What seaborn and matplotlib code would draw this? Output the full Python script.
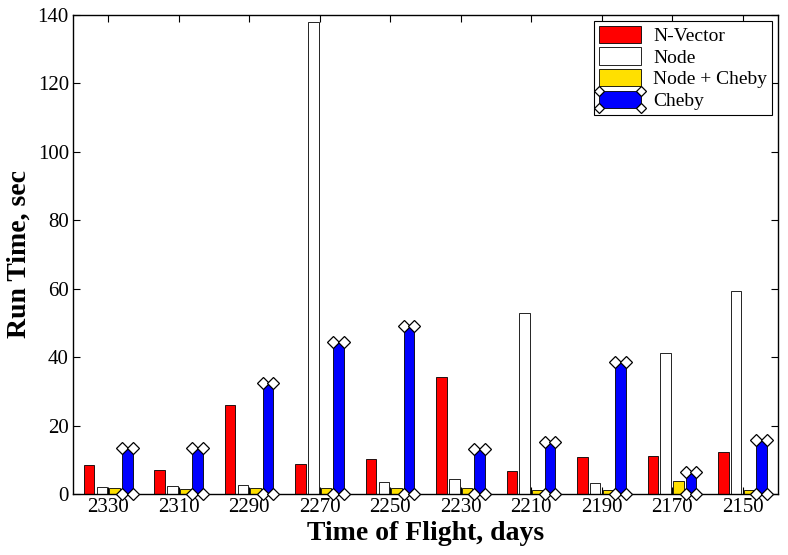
import numpy as np
import pandas as pd
import seaborn as sns
import matplotlib.pyplot as plt
from matplotlib.patches import Rectangle
from matplotlib.lines import Line2D
from matplotlib.legend_handler import HandlerBase

tof = ['2330', '2310', '2290', '2270', '2250', '2230', '2210', '2190', '2170', '2150']
methods = ['N-Vector', 'Node', 'Node + Cheby', 'Cheby']
nvector = [8.5, 7.0, 26.0, 8.9, 10.2, 34.3, 6.6, 10.7, 11.2, 12.2]
node = [2.1, 2.3, 2.6, 138.0, 3.5, 4.5, 53.0, 3.2, 41.2, 59.3]
node_cheby = [1.8, 1.4, 1.6, 1.6, 1.6, 1.8, 1.3, 1.3, 3.7, 1.3]
cheby = [13.4, 13.4, 32.3, 44.5, 49.0, 13.2, 15.1, 38.5, 6.5, 15.8]
colors = ['#ff0000', '#ffffff', '#ffe000', '#0000ff']

df = pd.DataFrame({
    'tof': tof * 4,
    'method': np.repeat(methods, len(tof)),
    'time': nvector + node + node_cheby + cheby,
})

sns.set_style('ticks')
plt.rcParams['font.family'] = ['Liberation Serif', 'DejaVu Serif']
plt.rcParams.update({'text.color': 'black', 'axes.labelcolor': 'black',
                     'xtick.color': 'black', 'ytick.color': 'black'})

fig = plt.figure(figsize=(7.88, 5.55), dpi=100)
ax = fig.add_axes([0.0926, 0.11, 0.8944, 0.863])
sns.barplot(data=df, x='tof', y='time', hue='method', order=tof, hue_order=methods,
            palette=colors, width=0.72, gap=0.17, edgecolor='black', linewidth=0.6,
            saturation=1, ax=ax, legend=False)

# diamonds at the corners of the Cheby bars
for p in ax.containers[3]:
    x0, y0 = p.get_x(), p.get_y()
    x1, y1 = x0 + p.get_width(), y0 + p.get_height()
    ax.plot([x0, x1, x0, x1], [y0, y0, y1, y1], linestyle='none', marker='D',
            markersize=6, markerfacecolor='white', markeredgecolor='black',
            markeredgewidth=0.9, clip_on=False, zorder=5)

ax.set_xlim(-0.5, 9.5)
ax.set_ylim(0, 140)
ax.set_yticks(range(0, 141, 20))
ax.tick_params(direction='in', top=True, right=True, labelsize=15, length=5, width=0.8,
               pad=3, colors='black')
for s in ax.spines.values():
    s.set_linewidth(1.0)
    s.set_color('black')
ax.set_xlabel('Time of Flight, days', fontsize=20, fontweight='bold', labelpad=3)
ax.set_ylabel('Run Time, sec', fontsize=20, fontweight='bold', labelpad=4)


class CornerHandler(HandlerBase):
    def __init__(self, color, diamonds):
        super().__init__()
        self.color = color
        self.diamonds = diamonds

    def create_artists(self, legend, orig_handle, xdescent, ydescent, width, height, fontsize, trans):
        r = Rectangle((-xdescent, -ydescent), width, height, facecolor=self.color,
                      edgecolor='black', linewidth=0.6, transform=trans)
        arts = [r]
        if self.diamonds:
            xs = [-xdescent, -xdescent + width, -xdescent, -xdescent + width]
            ys = [-ydescent, -ydescent, -ydescent + height, -ydescent + height]
            arts.append(Line2D(xs, ys, linestyle='none', marker='D', markersize=5,
                               markerfacecolor='white', markeredgecolor='black',
                               markeredgewidth=0.9, transform=trans))
        return arts


handles = [Rectangle((0, 0), 1, 1) for _ in methods]
hmap = {h: CornerHandler(c, m == 'Cheby') for h, c, m in zip(handles, colors, methods)}
leg = ax.legend(handles, methods, handler_map=hmap, loc='upper right', fontsize=14,
                frameon=True, fancybox=False, edgecolor='black', framealpha=1,
                borderpad=0.25, labelspacing=0.12, handlelength=2.2, handleheight=1.0,
                handletextpad=0.6, borderaxespad=0.3)
leg.get_frame().set_linewidth(0.8)

fig.savefig('out.png', dpi=100)
